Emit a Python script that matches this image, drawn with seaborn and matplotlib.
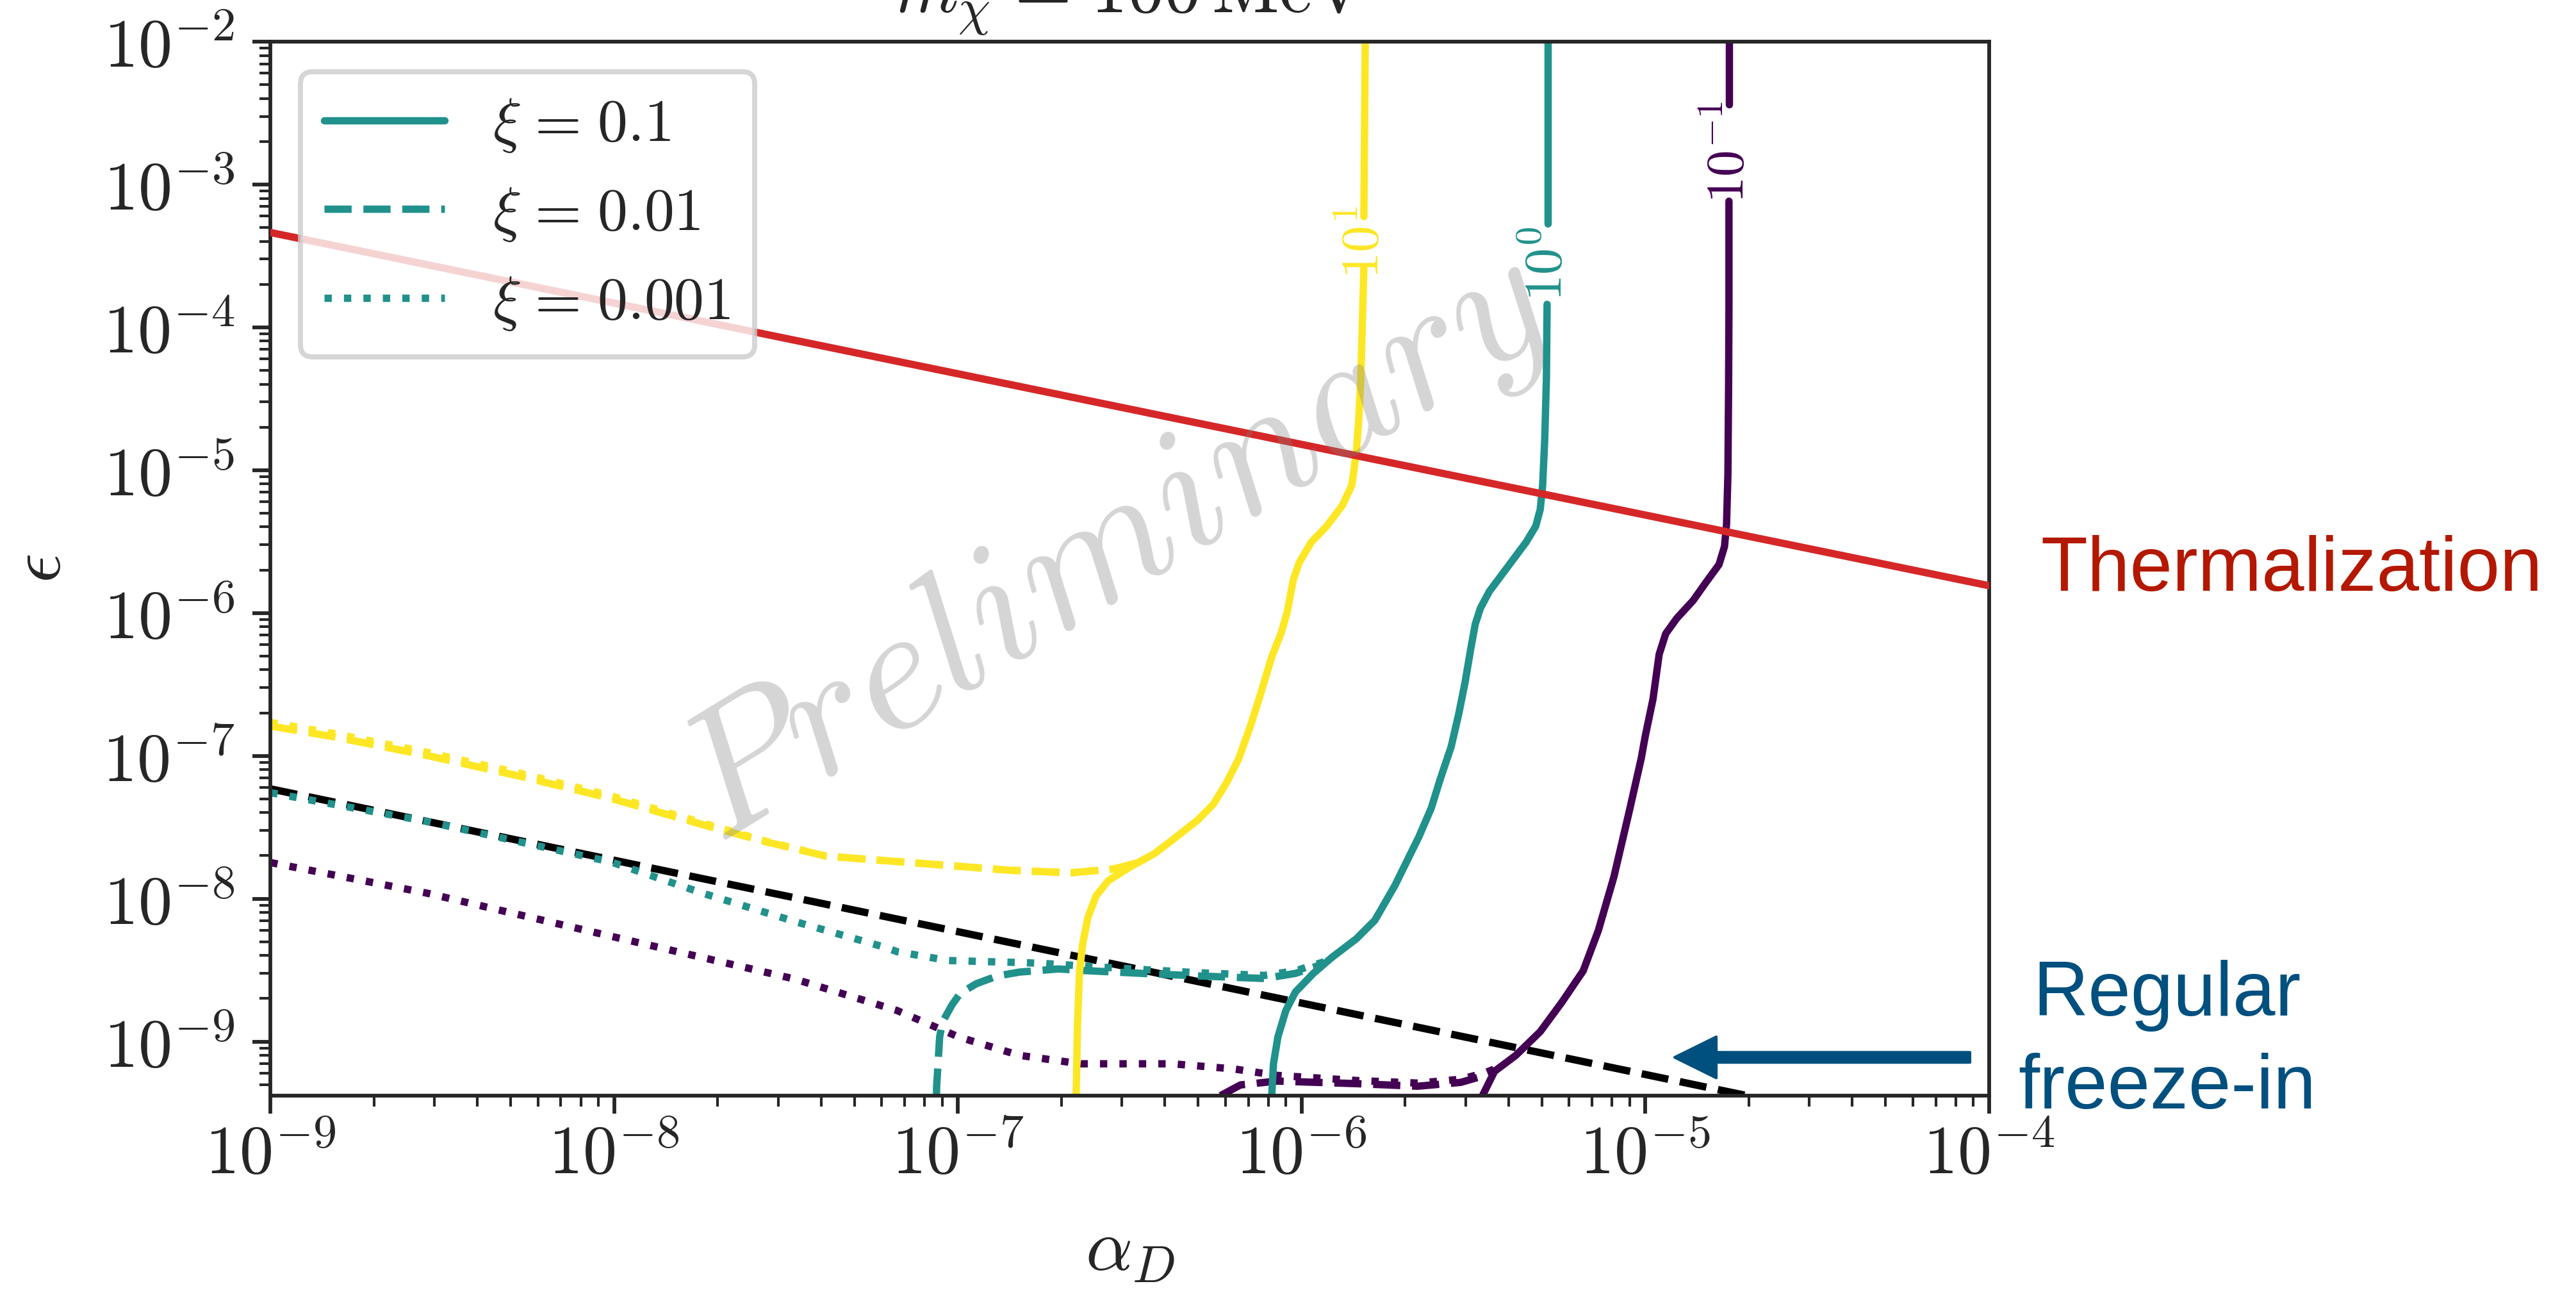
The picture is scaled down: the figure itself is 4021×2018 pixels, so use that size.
import numpy as np
import pandas as pd
import matplotlib
matplotlib.use("Agg")
import matplotlib.pyplot as plt
from matplotlib.lines import Line2D
from matplotlib.ticker import FuncFormatter, LogLocator, NullFormatter
import seaborn as sns

# ---------------------------------------------------------------------------
# Contours of the relic abundance (log10 alpha_D, log10 epsilon), m_chi = 100 MeV
# levels: 1e1 (yellow), 1e0 (teal), 1e-1 (purple); xi = 0.1 / 0.01 / 0.001
# ---------------------------------------------------------------------------
levels = [1e1, 1e0, 1e-1]
level_labels = [r"$10^{1}$", r"$10^{0}$", r"$10^{-1}$"]
level_colors = ["#fde725", "#21918c", "#440154"]
xi_values = ["0.1", "0.01", "0.001"]
xi_styles = ["-", "--", ":"]

# xi = 0.1 (solid), split around the inline label
l10_xi1_upper_a = [-5.815, -5.819]
l10_xi1_upper_e = [-2.0, -3.225]
l10_xi1_lower_a = [-5.819, -5.823, -5.828, -5.834, -5.841, -5.854, -5.882, -5.927,
                   -5.972, -6.007, -6.024, -6.042, -6.059, -6.087, -6.123, -6.149,
                   -6.184, -6.220, -6.257, -6.303, -6.367, -6.428, -6.499, -6.562,
                   -6.598, -6.622, -6.637, -6.646, -6.652, -6.656]
l10_xi1_lower_e = [-3.584, -3.934, -4.360, -4.647, -4.876, -5.105, -5.248, -5.392,
                   -5.504, -5.647, -5.764, -5.993, -6.136, -6.307, -6.594, -6.791,
                   -7.025, -7.195, -7.339, -7.451, -7.572, -7.684, -7.778, -7.873,
                   -7.980, -8.133, -8.317, -8.505, -8.873, -9.379]

l1_xi1_upper_a = [-5.284, -5.284]
l1_xi1_upper_e = [-2.0, -3.274]
l1_xi1_lower_a = [-5.286, -5.288, -5.293, -5.299, -5.306, -5.319, -5.347, -5.383,
                  -5.418, -5.454, -5.480, -5.495, -5.508, -5.524, -5.543, -5.565,
                  -5.597, -5.623, -5.659, -5.694, -5.729, -5.787, -5.841, -5.912,
                  -5.966, -6.018, -6.046, -6.069, -6.082, -6.087]
l1_xi1_lower_e = [-3.839, -4.360, -4.790, -5.105, -5.275, -5.392, -5.504, -5.620,
                  -5.733, -5.849, -5.966, -6.078, -6.249, -6.477, -6.706, -6.935,
                  -7.164, -7.366, -7.567, -7.738, -7.909, -8.151, -8.281, -8.411,
                  -8.523, -8.653, -8.783, -8.967, -9.156, -9.379]

l01_xi1_upper_a = [-4.757, -4.757]
l01_xi1_upper_e = [-2.0, -2.440]
l01_xi1_lower_a = [-4.757, -4.757, -4.758, -4.760, -4.764, -4.770, -4.786, -4.824,
                   -4.861, -4.909, -4.941, -4.960, -4.969, -4.978, -5.001, -5.012,
                   -5.047, -5.092, -5.137, -5.181, -5.243, -5.306, -5.377, -5.439,
                   -5.474]
l01_xi1_lower_e = [-3.117, -3.853, -4.400, -5.028, -5.378, -5.535, -5.661, -5.786,
                   -5.912, -6.038, -6.145, -6.289, -6.446, -6.603, -6.868, -7.016,
                   -7.388, -7.850, -8.223, -8.505, -8.725, -8.931, -9.097, -9.209,
                   -9.379]

# inline label positions on the xi = 0.1 contours
label_a = [-5.819, -5.285, -4.757]
label_e = [-3.404, -3.557, -2.776]

# xi = 0.01 (dashed)
l10_xi2_a = [-9.0, -8.812, -8.543, -8.277, -8.009, -7.742, -7.563, -7.384, -7.118,
             -6.849, -6.672, -6.547, -6.470]
l10_xi2_e = [-6.791, -6.868, -6.998, -7.141, -7.298, -7.482, -7.599, -7.702, -7.751,
             -7.801, -7.819, -7.792, -7.745]
l1_xi2_a = [-7.062, -7.062, -7.053, -7.045, -7.017, -6.993, -6.946, -6.885, -6.821,
            -6.708, -6.618, -6.464, -6.298, -6.108, -6.018, -5.947, -5.933]
l1_xi2_e = [-9.379, -9.322, -8.968, -8.865, -8.743, -8.662, -8.595, -8.541, -8.514,
            -8.492, -8.505, -8.523, -8.541, -8.559, -8.523, -8.465, -8.447]
l01_xi2_a = [-6.236, -6.178, -6.072, -5.841, -5.662, -5.537, -5.467, -5.435]
l01_xi2_e = [-9.379, -9.304, -9.277, -9.295, -9.313, -9.286, -9.237, -9.201]

# xi = 0.001 (dotted)
l10_xi3_a = [-9.0, -8.812, -8.543, -8.277, -8.009, -7.742, -7.563, -7.384, -7.118,
             -6.849, -6.672, -6.547, -6.470]
l10_xi3_e = [-6.766, -6.845, -6.976, -7.120, -7.280, -7.470, -7.595, -7.702, -7.751,
             -7.801, -7.819, -7.792, -7.745]
l1_xi3_a = [-9.0, -8.543, -8.009, -7.742, -7.474, -7.207, -7.177, -7.028, -6.821,
            -6.760, -6.618, -6.464, -6.298, -6.108, -6.018, -5.947, -5.933]
l1_xi3_e = [-7.258, -7.460, -7.743, -7.962, -8.160, -8.344, -8.371, -8.433, -8.447,
            -8.452, -8.474, -8.496, -8.519, -8.537, -8.505, -8.451, -8.440]
l01_xi3_a = [-9.0, -8.543, -8.009, -7.474, -7.177, -6.999, -6.821, -6.643, -6.376,
             -6.197, -6.072, -5.841, -5.662, -5.537, -5.467, -5.439]
l01_xi3_e = [-7.747, -7.962, -8.263, -8.563, -8.783, -8.967, -9.097, -9.156, -9.156,
             -9.192, -9.237, -9.273, -9.291, -9.264, -9.219, -9.192]

# reference lines (log10 alpha_D, log10 epsilon)
thermal_a = [-9.0, -4.0]
thermal_e = [-3.336, -5.809]
freezein_a = [-9.0, -4.0]
freezein_e = [-7.231, -9.731]

# arrow pointing at the regular freeze-in line
arrow_tail = (-4.056, -9.111)
arrow_tip = (-4.915, -9.111)

# ---------------------------------------------------------------------------
sns.set_style("ticks")
plt.rcParams["font.family"] = ["serif"]
plt.rcParams["mathtext.fontset"] = "cm"

DPI = 300
fig = plt.figure(figsize=(4021 / DPI, 2018 / DPI), dpi=DPI)
ax = fig.add_axes([0.10495, 0.15263, 0.66725, 0.81516])
ax.set_xscale("log")
ax.set_yscale("log")

LW = 2.75


def draw_curve(segments, color, ls, z):
    frames = []
    for k, (la, le) in enumerate(segments):
        frames.append(pd.DataFrame({"alpha": 10.0 ** np.asarray(la),
                                    "eps": 10.0 ** np.asarray(le),
                                    "seg": k}))
    df = pd.concat(frames, ignore_index=True)
    sns.lineplot(data=df, x="alpha", y="eps", units="seg", estimator=None,
                 sort=False, color=color, linestyle=ls, lw=LW, ax=ax,
                 zorder=z, legend=False)


# regular freeze-in line
draw_curve([(freezein_a, freezein_e)], "black", "--", 1.8)

# xi = 0.001 and 0.01 contours
draw_curve([(l01_xi3_a, l01_xi3_e)], level_colors[2], ":", 2.0)
draw_curve([(l1_xi3_a, l1_xi3_e)], level_colors[1], ":", 2.0)
draw_curve([(l10_xi3_a, l10_xi3_e)], level_colors[0], ":", 2.0)
draw_curve([(l01_xi2_a, l01_xi2_e)], level_colors[2], "--", 2.1)
draw_curve([(l1_xi2_a, l1_xi2_e)], level_colors[1], "--", 2.1)
draw_curve([(l10_xi2_a, l10_xi2_e)], level_colors[0], "--", 2.1)

# xi = 0.1 contours with inline labels
draw_curve([(l10_xi1_upper_a, l10_xi1_upper_e), (l10_xi1_lower_a, l10_xi1_lower_e)],
           level_colors[0], "-", 2.2)
draw_curve([(l1_xi1_upper_a, l1_xi1_upper_e), (l1_xi1_lower_a, l1_xi1_lower_e)],
           level_colors[1], "-", 2.2)
draw_curve([(l01_xi1_upper_a, l01_xi1_upper_e), (l01_xi1_lower_a, l01_xi1_lower_e)],
           level_colors[2], "-", 2.2)
for la, le, txt, col in zip(label_a, label_e, level_labels, level_colors):
    ax.text(10 ** la, 10 ** le, txt, rotation=90, rotation_mode="anchor",
            ha="center", va="center", color=col, fontsize=20, zorder=2.3)

# thermalization line
draw_curve([(thermal_a, thermal_e)], "#d62728", "-", 3)

# arrow
ax.annotate("", xy=(10 ** arrow_tip[0], 10 ** arrow_tip[1]),
            xytext=(10 ** arrow_tail[0], 10 ** arrow_tail[1]),
            arrowprops=dict(facecolor="#00507f", edgecolor="#00507f", width=3.8,
                            headwidth=15.4, headlength=15.6, shrink=0.0),
            zorder=3)

# watermark
ax.text(0.49, 0.522, r"$Preliminary$", transform=ax.transAxes, rotation=31.5,
        rotation_mode="anchor", ha="center", va="center", fontsize=67,
        color="gray", alpha=0.33, zorder=4)

# axes
ax.set_xlim(1e-9, 1e-4)
ax.set_ylim(10 ** -9.379, 1e-2)
fmt = FuncFormatter(lambda v, p: r"$10^{%d}$" % int(round(np.log10(v))))
for axis in (ax.xaxis, ax.yaxis):
    axis.set_major_locator(LogLocator(base=10, numticks=30))
    axis.set_minor_locator(LogLocator(base=10, subs=np.arange(2, 10), numticks=300))
    axis.set_major_formatter(fmt)
    axis.set_minor_formatter(NullFormatter())
ax.tick_params(which="major", length=6.8, width=1.4, labelsize=25.5, direction="out")
ax.tick_params(which="minor", length=4.0, width=1.0, direction="out")
ax.tick_params(axis="x", which="major", pad=3.0)
ax.tick_params(axis="y", which="major", pad=6.5)
for s in ax.spines.values():
    s.set_linewidth(1.4)
    s.set_visible(True)

ax.set_xlabel(r"$\alpha_D$", fontsize=27.5, labelpad=10)
ax.set_ylabel(r"$\epsilon$", fontsize=27.5, labelpad=10)
ax.set_title(r"$m_\chi\hspace{0.1}=\hspace{0.1}100\,\mathrm{MeV}$", fontsize=27.5,
             pad=10.8)

handles = [Line2D([], [], color=level_colors[1], lw=LW, ls=s) for s in xi_styles]
labels = [r"$\xi\hspace{0.1}=\hspace{0.1}%s$" % x for x in xi_values]
leg = ax.legend(handles, labels, loc="upper left", fontsize=22.5, frameon=True,
                fancybox=True, framealpha=0.8, edgecolor="0.8")
leg.get_frame().set_linewidth(1.9)
leg.set_zorder(5)

# annotations outside the axes
fig.text(0.7923, 0.5431, "Thermalization", ha="left", va="baseline",
         fontsize=28.7, family="Liberation Sans", color="#b31800")
fig.text(0.8413, 0.1427, "Regular\nfreeze-in", ha="center", va="baseline",
         multialignment="center", linespacing=1.38, fontsize=28.7,
         family="Liberation Sans", color="#00507f")

fig.savefig("out.png", dpi=DPI)
